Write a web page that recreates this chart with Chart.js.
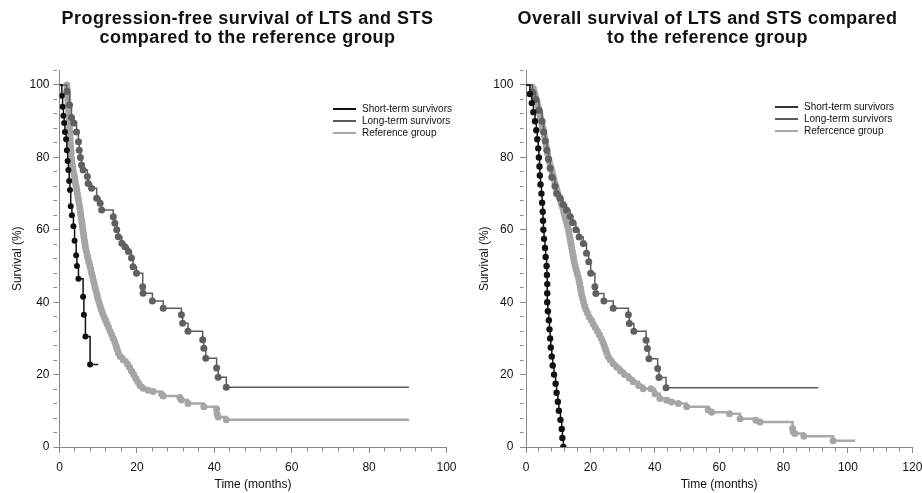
<!DOCTYPE html>
<html>
<head>
<meta charset="utf-8">
<script src="https://cdn.jsdelivr.net/npm/chart.js@4.4.1/dist/chart.umd.min.js"></script>
<style>
  body { margin: 0; background: #fff; font-family: 'Liberation Sans', Arial, sans-serif; }
  #wrap { position: relative; width: 922px; height: 493px; overflow: hidden; }
  canvas { position: absolute; top: 0; }
  .title { position: absolute; width: 461px; text-align: center; font-weight: bold; font-size: 18px; letter-spacing: 0.45px; line-height: 19px; color: #111; top: 9px; }
  .legend { position: absolute; font-size: 10px; color: #111; }
  .legend div { position: relative; height: 12px; line-height: 12px; padding-left: 29px; white-space: nowrap; }
  .legend span { position: absolute; left: 0; top: 5px; width: 23px; height: 2px; }
</style>
</head>
<body>
<div id="wrap">
  <canvas id="pfsChart" width="461" height="493" style="left:0"></canvas>
  <canvas id="osChart" width="461" height="493" style="left:461px"></canvas>
  <div class="title" style="left:17px">Progression-free survival of LTS and STS<br>compared to the reference group</div>
  <div class="title" style="left:477px">Overall survival of LTS and STS compared<br>to the reference group</div>
  <div class="legend" style="left:333px; top:103px">
    <div><span style="background:#111"></span>Short-term survivors</div>
    <div><span style="background:#5c5c5c"></span>Long-term survivors</div>
    <div><span style="background:#a9a9a9"></span>Reference group</div>
  </div>
  <div class="legend" style="left:775px; top:101px">
    <div><span style="background:#333"></span>Short-term survivors</div>
    <div><span style="background:#5c5c5c"></span>Long-term survivors</div>
    <div><span style="background:#a9a9a9"></span>Refercence group</div>
  </div>
</div>
<script>
// Progression-free survival (left panel)
const pfsStsTime = [0, 0.6, 0.8, 1.0, 1.2, 1.4, 1.7, 1.9, 2.1, 2.3, 2.5, 2.7, 2.9, 3.2, 3.6, 3.9, 4.3, 4.5, 4.9, 6.1, 6.3, 6.7, 7.9, 10];
const pfsStsSurv = [100, 97, 94, 91.5, 89.5, 87, 85, 82, 79, 76.5, 73.5, 71, 66.5, 64, 61, 57, 53, 50, 46.5, 41.5, 36.5, 30.5, 22.8, 22.8];

const pfsLtsTime = [0, 1.9, 2.6, 3.1, 3.7, 4.4, 4.9, 5.1, 5.4, 5.7, 6.1, 7.2, 7.4, 8.3, 9.6, 10.5, 10.9, 13.9, 14.3, 14.8, 15.2, 16.1, 16.9, 17.8, 18.6, 19.0, 19.9, 21.5, 21.6, 24.0, 26.8, 31.5, 31.8, 33.2, 37.0, 37.3, 37.8, 40.6, 41.0, 43.1, 90.3];
const pfsLtsSurv = [100, 98.2, 94.5, 91, 89.5, 87, 84.3, 82, 80, 77.9, 76.5, 74.7, 72.8, 71.5, 68.7, 67.3, 65.5, 63.6, 61.8, 60, 58.1, 56.3, 55.3, 54, 52.2, 49.8, 48, 44.3, 42.5, 40.3, 38.3, 36.5, 34.2, 32, 29.6, 27.3, 24.5, 21.8, 19.3, 16.5, 16.5];

const pfsRefTime = [0, 1.9, 2.0, 2.05, 2.1, 2.15, 2.2, 2.3, 2.35, 2.4, 2.45, 2.5, 2.55, 2.6, 2.65, 2.7, 2.75, 2.8, 2.9, 2.95, 3.0, 3.05, 3.15, 3.3, 3.45, 3.6, 3.8, 3.95, 4.1, 4.3, 4.45, 4.6, 4.75, 4.95, 5.1, 5.25, 5.4, 5.5, 5.65, 5.8, 5.9, 6.05, 6.2, 6.3, 6.45, 6.6, 6.75, 6.95, 7.15, 7.35, 7.6, 7.85, 8.1, 8.3, 8.55, 8.75, 9.0, 9.2, 9.45, 9.7, 9.9, 10.2, 10.5, 10.8, 11.1, 11.5, 11.9, 12.3, 12.7, 13.1, 13.5, 13.9, 14.3, 14.6, 14.9, 15.2, 15.7, 16.5, 17.5, 18.1, 18.6, 19.2, 19.7, 20.2, 20.8, 21.6, 22.9, 24.2, 26.4, 26.8, 31.1, 31.5, 33.2, 37.3, 40.6, 40.7, 41.0, 43.1, 90.3];
const pfsRefSurv = [100, 100, 99, 98, 97, 96, 95, 94, 93, 92, 91, 90, 89, 88, 87, 86, 85, 84, 83, 82, 81, 80, 79, 78, 77, 76, 75, 74, 73, 72, 71, 70, 69, 68, 67, 66, 65, 64, 63, 62, 61, 60, 59, 58, 57, 56, 55, 54, 53, 52, 51, 50, 49, 48, 47, 46, 45, 44, 43, 42, 41, 40, 39, 38, 37, 36, 35, 34, 33, 32, 31, 30, 29, 28, 27, 26, 25, 24, 23, 22, 21, 20, 19, 18, 17, 16.2, 15.7, 15.3, 14.6, 14.1, 13.7, 13, 12, 11.1, 10.5, 9.1, 8.3, 7.5, 7.5];

// Overall survival (right panel)
const osStsTime = [0, 1.2, 1.8, 2.3, 2.8, 3.2, 3.5, 3.8, 4.0, 4.2, 4.3, 4.5, 4.8, 5.0, 5.2, 5.3, 5.4, 5.6, 5.9, 6.1, 6.4, 6.5, 6.6, 6.6, 6.6, 6.8, 7.1, 7.3, 7.5, 7.7, 8.0, 8.3, 8.7, 9.2, 9.5, 9.9, 10.2, 10.7, 11.1, 11.3, 11.6];
const osStsSurv = [100, 97.5, 95, 92.5, 90, 87.5, 85, 82.5, 80, 77.5, 75, 72.5, 70, 67.5, 65, 62.5, 60, 57.5, 55, 52.5, 50, 47.5, 45, 42.5, 40, 37.5, 35, 32.5, 30, 27.5, 25, 22.5, 20, 17.5, 15, 12.5, 10, 7.5, 5, 2.5, 0];

const osLtsTime = [0, 2, 3, 4, 5, 5.5, 6, 6.5, 7, 7.5, 8, 9, 9.5, 10.6, 11.5, 12.6, 13.7, 14.5, 15.5, 16.5, 17.8, 18.8, 19.5, 20.1, 21.4, 21.7, 24.2, 27.1, 31.8, 32.1, 33.5, 37.3, 37.7, 38.2, 40.9, 41.3, 43.5, 90.8];
const osLtsSurv = [100, 98, 96, 93, 90, 87, 84.5, 82, 79.5, 77, 74.5, 72, 70, 68.7, 67, 65.5, 63.7, 62, 60, 58, 56.2, 53.5, 51.2, 48, 44.3, 42.4, 40.3, 38.3, 36.5, 34.1, 32, 29.5, 27.2, 24.4, 21.7, 19.2, 16.4, 16.4];

const osRefTime = [0, 2.3, 2.6, 2.9, 3.2, 3.5, 3.8, 4.0, 4.3, 4.5, 4.8, 5.0, 5.3, 5.5, 5.7, 5.9, 6.1, 6.3, 6.5, 6.7, 6.9, 7.2, 7.5, 7.8, 8.1, 8.4, 8.7, 9.0, 9.3, 9.6, 9.9, 10.3, 10.7, 11.0, 11.4, 11.7, 12.0, 12.3, 12.6, 12.9, 13.2, 13.4, 13.6, 13.8, 14.0, 14.2, 14.4, 14.6, 14.8, 15.0, 15.3, 15.6, 15.9, 16.2, 16.5, 16.7, 16.9, 17.1, 17.3, 17.6, 17.9, 18.2, 18.6, 19.1, 19.6, 20.3, 20.9, 21.5, 22.2, 22.8, 23.4, 23.9, 24.3, 24.7, 25.1, 25.5, 26.2, 27.1, 28.2, 29.4, 30.6, 32.1, 33.3, 35.0, 36.4, 38.8, 40.1, 41.6, 43.7, 45.2, 47.3, 49.9, 56.6, 57.7, 63.2, 66.5, 71.4, 72.7, 82.8, 83.0, 83.5, 86.3, 95.4, 102.2];
const osRefSurv = [100, 99, 98, 97, 96, 95, 94, 93, 92, 91, 90, 89, 88, 87, 86, 85, 84, 83, 82, 81, 80, 79, 78, 77, 76, 75, 74, 73, 72, 71, 70, 69, 68, 67, 66, 65, 64, 63, 62, 61, 60, 59, 58, 57, 56, 55, 54, 53, 52, 51, 50, 49, 48, 47, 46, 45, 44, 43, 42, 41, 40, 39, 38, 37, 36, 35, 34, 33, 32, 31, 30, 29, 28, 27, 26, 25, 24, 23, 22, 21, 20, 19, 18, 17, 16.1, 16.1, 14.7, 13.4, 12.9, 12.4, 12, 11.1, 10.2, 9.6, 9.2, 7.8, 7.4, 6.9, 5.1, 4.2, 3.7, 3.0, 1.7, 1.7];

const yTicks = [0, 20, 40, 60, 80, 100];

function curve(times, surv, color, dotColor, width, r, tailDot) {
    const n = times.length;
    return {
        data: times.map((t, i) => ({ x: t, y: surv[i] })),
        showLine: true,
        stepped: true,
        borderColor: color,
        borderWidth: width,
        pointBackgroundColor: dotColor,
        pointBorderWidth: 0,
        pointRadius: ctx => (ctx.dataIndex === 0 || (!tailDot && ctx.dataIndex === n - 1)) ? 0 : r,
        pointHoverRadius: 0
    };
}

function axisTitle(text, pad) {
    return { display: true, text: text, color: '#111', font: { family: "'Liberation Sans', Arial", size: 12 }, padding: pad };
}

// minor ticks: only the part next to the axis is drawn
const minorDash = ctx => (ctx.tick && ctx.tick.value % 20 !== 0) ? [3.5, 20] : [];

function noScalePadding(s) {
    s.paddingLeft = 0; s.paddingRight = 0; s.paddingTop = 0; s.paddingBottom = 0;
}

function makeChart(id, xMax, datasets, yWidth, padRight, yTitlePad, yTickPad) {
    const tickFont = { family: "'Liberation Sans', Arial", size: 12 };
    return new Chart(document.getElementById(id), {
        type: 'scatter',
        data: { datasets: datasets },
        options: {
            responsive: false,
            animation: false,
            layout: { autoPadding: false, padding: { top: 70.5, right: padRight, bottom: 0, left: 0 } },
            plugins: { legend: { display: false }, tooltip: { enabled: false } },
            scales: {
                x: {
                    type: 'linear', min: 0, max: xMax,
                    afterFit: s => { s.height = 46; noScalePadding(s); },
                    border: { display: true, color: '#888' },
                    grid: { drawOnChartArea: false, tickLength: 6, tickColor: '#888', tickBorderDash: minorDash },
                    ticks: { stepSize: 4, autoSkip: false, maxRotation: 0, color: '#111', font: tickFont, padding: 7,
                             callback: v => v % 20 === 0 ? v : '' },
                    title: axisTitle('Time (months)', { top: 0, bottom: 1 })
                },
                y: {
                    type: 'linear', min: 0, max: 104,
                    afterFit: s => { s.width = yWidth; noScalePadding(s); },
                    border: { display: true, color: '#888' },
                    grid: { drawOnChartArea: false, tickLength: 6, tickColor: '#888', tickBorderDash: minorDash },
                    ticks: { stepSize: 4, autoSkip: false, color: '#111', font: tickFont, padding: yTickPad,
                             callback: v => yTicks.includes(v) ? v : '' },
                    title: axisTitle('Survival (%)', { top: yTitlePad, bottom: 0 })
                }
            }
        }
    });
}

makeChart('pfsChart', 100, [
    curve(pfsStsTime, pfsStsSurv, '#111', '#111', 1.5, 3, false),
    curve(pfsLtsTime, pfsLtsSurv, '#5c5c5c', '#606060', 1.5, 3.5, false),
    curve(pfsRefTime, pfsRefSurv, '#a9a9a9', '#a5a5a5', 2.5, 3.5, false)
], 59.5, 14.5, 10.8, 4);

makeChart('osChart', 120, [
    curve(osStsTime, osStsSurv, '#111', '#111', 1.5, 3.2, true),
    curve(osLtsTime, osLtsSurv, '#5c5c5c', '#606060', 1.5, 3.5, false),
    curve(osRefTime, osRefSurv, '#a9a9a9', '#a5a5a5', 2.5, 3.5, false)
], 65, 9.7, 16.8, 6.7);
</script>
</body>
</html>
